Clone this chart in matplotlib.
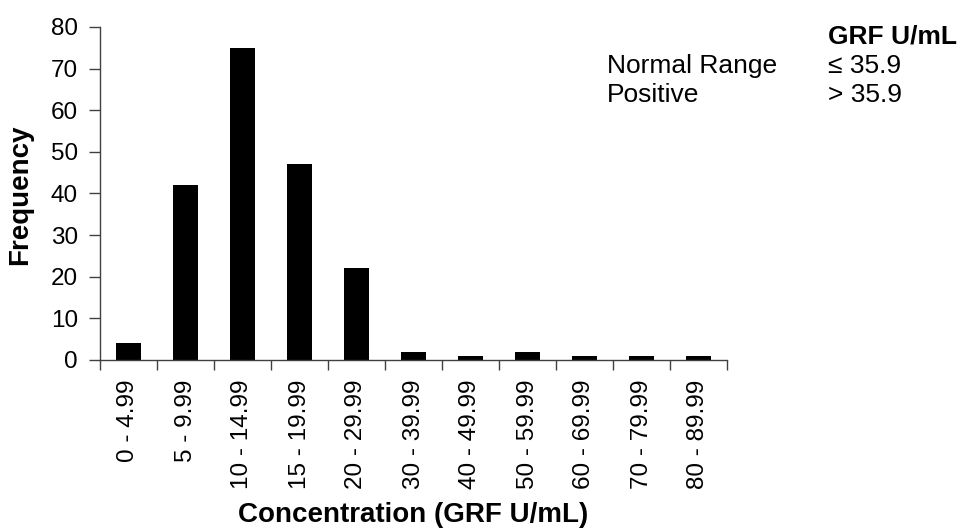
import matplotlib
matplotlib.use("Agg")
import matplotlib.pyplot as plt
import numpy as np

plt.rcParams['font.family'] = ['Liberation Sans', 'DejaVu Sans']

categories = ['0 - 4.99', '5 - 9.99', '10 - 14.99', '15 - 19.99', '20 - 29.99',
              '30 - 39.99', '40 - 49.99', '50 - 59.99', '60 - 69.99',
              '70 - 79.99', '80 - 89.99']
frequency = [4, 42, 75, 47, 22, 2, 1, 2, 1, 1, 1]

range_names = ['Normal Range', 'Positive']
range_values = ['≤ 35.9', '> 35.9']

fs = 17.5
leg_fs = 19

fig = plt.figure(figsize=(9.67, 5.3), dpi=100)
ax = fig.add_axes([100/967, 1 - 360/530, 627/967, 333/530])

x = np.arange(len(categories))
ax.bar(x, frequency, width=0.44, color='black')

ax.set_xlim(-0.5, len(categories) - 0.5)
ax.set_ylim(0, 80)
ax.set_yticks(range(0, 81, 10))
ax.set_xticks(np.arange(len(categories) + 1) - 0.5)
ax.set_xticklabels([])
ax.set_xticks(x, minor=True)
ax.set_xticklabels(categories, minor=True, rotation=90, fontsize=fs)
ax.tick_params(axis='x', which='minor', length=0, pad=14)
ax.tick_params(axis='x', which='major', length=7, width=1, color='#404040', direction='out')
ax.tick_params(axis='y', length=8, width=1, color='#404040', direction='out', labelsize=fs, pad=8)

for side in ['top', 'right']:
    ax.spines[side].set_visible(False)
for side in ['left', 'bottom']:
    ax.spines[side].set_color('#404040')
    ax.spines[side].set_linewidth(1)

fig.text(20/967, 1 - 195/530, 'Frequency', fontsize=20, fontweight='bold',
         rotation=90, ha='center', va='center')
fig.text(413/967, 1 - 522/530, 'Concentration (GRF U/mL)', fontsize=20,
         fontweight='bold', ha='center', va='baseline')

fig.text(828/967, 1 - 43/530, 'GRF U/mL', fontsize=leg_fs, fontweight='bold', va='baseline')
for i, (name, val) in enumerate(zip(range_names, range_values)):
    yb = 1 - (73 + 29 * i) / 530
    fig.text(607/967, yb, name, fontsize=leg_fs, va='baseline')
    fig.text(828/967, yb, val, fontsize=leg_fs, va='baseline')

fig.savefig('out.png', dpi=100)
